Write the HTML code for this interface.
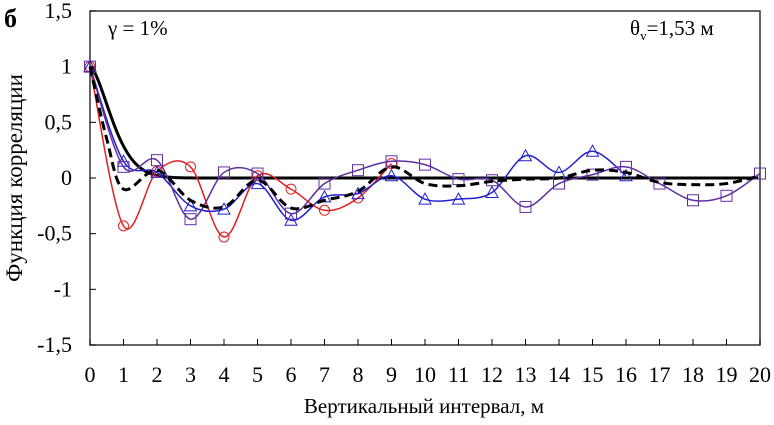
<!DOCTYPE html><html><head><meta charset="utf-8"><style>
html,body{margin:0;padding:0;background:#fff}
svg text{font-family:"Liberation Serif","DejaVu Serif",serif;fill:#000}
</style></head><body>
<svg id="s" width="774" height="420" xmlns="http://www.w3.org/2000/svg">
<rect x="90" y="11" width="670" height="334" fill="none" stroke="#333" stroke-width="1.5"/>
<g id="ticks" stroke="#000" stroke-width="1"></g>
<g id="lbl" font-size="22"></g>
<text x="4" y="27" font-size="26" font-weight="bold">б</text>
<text x="108" y="35" font-size="21">γ = 1%</text>
<text x="630" y="35" font-size="21">θ<tspan font-size="13" dy="5">v</tspan><tspan dy="-5">=1,53 м</tspan></text>
<text x="424" y="413" font-size="21" text-anchor="middle">Вертикальный интервал, м</text>
<text transform="translate(22,178) rotate(-90)" font-size="23" text-anchor="middle">Функция корреляции</text>
<g id="plot"></g>
</svg>
<script>
var X=function(v){return 90+v*33.5},Y=function(v){return 178-v*111.33};
var t=document.getElementById('ticks'),l=document.getElementById('lbl'),p=document.getElementById('plot');
var ns="http://www.w3.org/2000/svg";
function el(par,tag,a,txt){var e=document.createElementNS(ns,tag);for(var k in a)e.setAttribute(k,a[k]);if(txt!=null)e.textContent=txt;par.appendChild(e);return e;}
for(var i=0;i<=20;i++){el(t,'line',{x1:X(i),x2:X(i),y1:345,y2:339});el(l,'text',{x:X(i),y:382,'text-anchor':'middle'},i);}
[1.5,1,0.5,0,-0.5,-1,-1.5].forEach(function(v){el(t,'line',{x1:90,x2:96,y1:Y(v),y2:Y(v)});el(l,'text',{x:72,y:Y(v)+7,'text-anchor':'end'},String(v).replace('.',','));});
function spline(pts){var d='M'+pts[0][0]+','+pts[0][1];for(var i=0;i<pts.length-1;i++){var p0=pts[i-1]||pts[i],p1=pts[i],p2=pts[i+1],p3=pts[i+2]||p2;
d+=' C'+(p1[0]+(p2[0]-p0[0])/6)+','+(p1[1]+(p2[1]-p0[1])/6)+' '+(p2[0]-(p3[0]-p1[0])/6)+','+(p2[1]-(p3[1]-p1[1])/6)+' '+p2[0]+','+p2[1];}return d;}
function series(vals,col,w,dash,mark){var pts=vals.map(function(v,i){return [X(i),Y(v)]});
var a={d:spline(pts),fill:'none',stroke:col,'stroke-width':w};if(dash)a['stroke-dasharray']=dash;el(p,'path',a);
if(mark)pts.forEach(function(q){var x=q[0],y=q[1];
if(mark=='o')el(p,'circle',{cx:x,cy:y,r:5,fill:'none',stroke:col});
if(mark=='s')el(p,'rect',{x:x-5.5,y:y-5.5,width:11,height:11,fill:'none',stroke:col});
if(mark=='t')el(p,'path',{d:'M'+x+','+(y-6)+' L'+(x+6)+','+(y+5)+' L'+(x-6)+','+(y+5)+'Z',fill:'none',stroke:col});});}
var sol=[];for(var x=0;x<=20;x+=0.05)sol.push([X(x),Y(Math.exp(-Math.pow(x,1.6)/0.8))]);
el(p,'path',{d:'M'+sol.map(function(q){return q.join(',')}).join(' L'),fill:'none',stroke:'#000','stroke-width':3});
series([1,-0.43,0.06,0.1,-0.53,0.02,-0.1,-0.29,-0.18,0.13],'#e02020',1.5,null,'o');
series([1,0.15,0.05,-0.25,-0.28,-0.05,-0.38,-0.17,-0.14,0.02,-0.19,-0.19,-0.13,0.2,0.05,0.24,0.02],'#2020d0',1.5,null,'t');
series([1,0.1,0.16,-0.37,0.05,0.04,-0.32,-0.05,0.07,0.15,0.12,-0.01,-0.02,-0.26,-0.05,0.03,0.1,-0.05,-0.2,-0.16,0.04],'#6030a0',1.5,null,'s');
var dv=[[0,1],[0.5,0.35]].concat([[1,-0.1],[2,0.07],[3,-0.2],[4,-0.26],[5,-0.02],[6,-0.27],[7,-0.2],[8,-0.12],[9,0.1],[10,-0.05],[11,-0.07],[12,-0.03],[13,-0.01],[14,0],[15,0.07],[16,0.05],[17,-0.04],[18,-0.06],[19,-0.05],[20,0.02]]);
el(p,'path',{d:spline(dv.map(function(q){return [X(q[0]),Y(q[1])]})),fill:'none',stroke:'#000','stroke-width':3,'stroke-dasharray':'9,5'});
</script>
</body></html>
